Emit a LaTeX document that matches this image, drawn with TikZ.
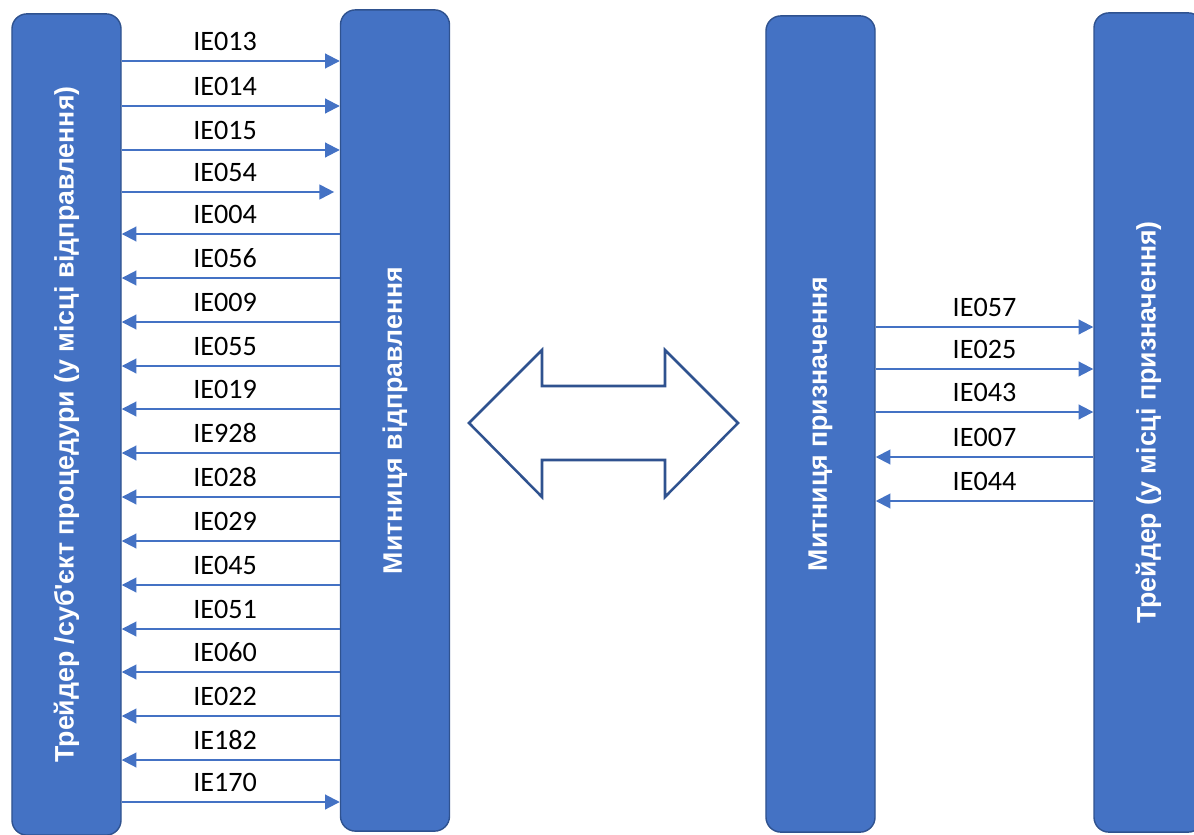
\documentclass[tikz,border=0pt]{standalone}
\usepackage{fontspec}
\setmainfont{Carlito}
\newfontfamily\barfont{Liberation Sans}
\usetikzlibrary{arrows.meta, positioning}
\definecolor{barblue}{HTML}{4472C4}
\definecolor{edgeblue}{HTML}{2F528F}
\tikzset{
	bar/.style={rectangle, rounded corners=10.6pt, draw=edgeblue, line width=1pt, fill=barblue, minimum height=2.725cm, text=white, font=\barfont\bfseries\fontsize{19}{23}\selectfont, rotate=90},
	msg/.style={barblue, line width=1.4pt, -{Triangle[length=10.5pt,width=10.5pt]}},
	lbl/.style={midway, above, inner sep=6.4pt, text=black, font=\fontsize{20}{24}\selectfont},
	leftlbl/.style={lbl, xshift=-4pt}
}

\begin{document}
\begin{tikzpicture}[x=0.025cm, y=-0.025cm]
			\useasboundingbox (0,0) rectangle (1194,834);
			% Bars
			\node (trader) [bar, minimum width=20.525cm] at (66.5,424.5) {Трейдер /суб'єкт процедури (у місці відправлення)};
			\node (depart) [bar, minimum width=20.525cm] at (395,420.5) {Митниця відправлення};
			\node (dest) [bar, minimum width=20.4cm] at (820.5,424) {Митниця призначення};
			\node (recv) [bar, minimum width=20.475cm] at (1148.5,422.5) {Трейдер (у місці призначення)};
			
			% Messages, departure side
			\draw [msg] (trader.south |- 0,61) -- (depart.north |- 0,61) node[leftlbl] {IE013};
			\draw [msg] (trader.south |- 0,106) -- (depart.north |- 0,106) node[leftlbl] {IE014};
			\draw [msg] (trader.south |- 0,150) -- (depart.north |- 0,150) node[leftlbl] {IE015};
			\draw [msg] (trader.south |- 0,192) -- ([xshift=-4pt]depart.north |- 0,192) node[leftlbl, xshift=2pt] {IE054};
			\draw [msg] (depart.north |- 0,234) -- (trader.south |- 0,234) node[leftlbl] {IE004};
			\draw [msg] (depart.north |- 0,278) -- (trader.south |- 0,278) node[leftlbl] {IE056};
			\draw [msg] (depart.north |- 0,322) -- (trader.south |- 0,322) node[leftlbl] {IE009};
			\draw [msg] (depart.north |- 0,366) -- (trader.south |- 0,366) node[leftlbl] {IE055};
			\draw [msg] (depart.north |- 0,409) -- (trader.south |- 0,409) node[leftlbl] {IE019};
			\draw [msg] (depart.north |- 0,453) -- (trader.south |- 0,453) node[leftlbl] {IE928};
			\draw [msg] (depart.north |- 0,497) -- (trader.south |- 0,497) node[leftlbl] {IE028};
			\draw [msg] (depart.north |- 0,541) -- (trader.south |- 0,541) node[leftlbl] {IE029};
			\draw [msg] (depart.north |- 0,585) -- (trader.south |- 0,585) node[leftlbl] {IE045};
			\draw [msg] (depart.north |- 0,629) -- (trader.south |- 0,629) node[leftlbl] {IE051};
			\draw [msg] (depart.north |- 0,672) -- (trader.south |- 0,672) node[leftlbl] {IE060};
			\draw [msg] (depart.north |- 0,716) -- (trader.south |- 0,716) node[leftlbl] {IE022};
			\draw [msg] (depart.north |- 0,760) -- (trader.south |- 0,760) node[leftlbl] {IE182};
			\draw [msg] (trader.south |- 0,802) -- (depart.north |- 0,802) node[leftlbl] {IE170};
			
			% Messages, destination side
			\draw [msg] (dest.south |- 0,327) -- (recv.north |- 0,327) node[lbl] {IE057};
			\draw [msg] (dest.south |- 0,369) -- (recv.north |- 0,369) node[lbl] {IE025};
			\draw [msg] (dest.south |- 0,412) -- (recv.north |- 0,412) node[lbl] {IE043};
			\draw [msg] (recv.north |- 0,457) -- (dest.south |- 0,457) node[lbl] {IE007};
			\draw [msg] (recv.north |- 0,501) -- (dest.south |- 0,501) node[lbl] {IE044};
			
			% Double arrow
			\draw [edgeblue, line width=1.8pt, fill=white, line join=miter] (469,423) -- (542,350) -- (542,386) -- (665,386) -- (665,350) -- (738,423) -- (665,497) -- (665,460) -- (542,460) -- (542,497) -- cycle;
		\end{tikzpicture}
\end{document}
